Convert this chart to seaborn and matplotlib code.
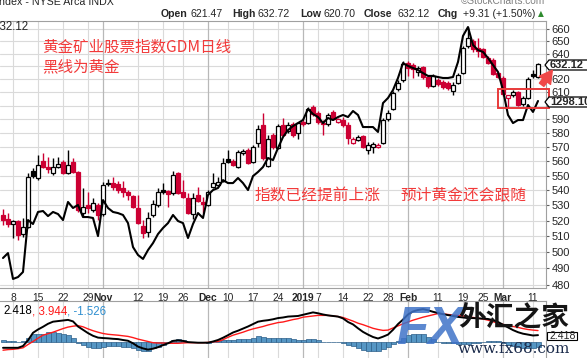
import numpy as np
import pandas as pd
import matplotlib
matplotlib.use("Agg")
import matplotlib.pyplot as plt
import seaborn as sns
from matplotlib.patches import Polygon, Rectangle, FancyArrowPatch
from matplotlib.ticker import NullLocator

# GDM (NYSE Arca Gold Miners) daily, Oct 4 2018 - Mar 12 2019
holidays = ['2018-11-22', '2018-12-05', '2018-12-25', '2019-01-01', '2019-01-21', '2019-02-18']
dates = pd.bdate_range('2018-10-04', '2019-03-12')
dates = dates[~dates.isin(pd.to_datetime(holidays))]

prev_close0 = 524.5
opens = [523.9, 521.3, 518.0, 520.0, 511.6, 516.1, 553.2, 548.4, 560.2, 556.0,
         551.9, 556.0, 559.5, 551.9, 559.5, 552.6, 525.2, 530.5, 527.1, 530.5,
         524.5, 545.1, 545.1, 544.4, 541.7, 539.0, 536.4, 528.5, 516.8, 513.0,
         523.9, 530.5, 540.2, 539.7, 538.0, 551.9, 539.0, 535.1, 524.5, 537.0,
         532.4, 530.5, 542.4, 543.7, 546.4, 561.6, 560.2, 556.0, 565.8, 567.9,
         559.5, 572.8, 585.8, 556.7, 578.6, 569.3, 585.8, 581.3, 586.6, 580.0,
         588.0, 587.3, 599.1, 594.6, 587.3, 586.6, 595.3, 588.0, 589.4, 585.8,
         572.8, 575.0, 577.8, 567.9, 570.0, 570.0, 572.8, 590.2, 597.6, 612.6,
         619.5, 632.7, 631.1, 625.6, 629.4, 621.7, 614.9, 619.5, 617.9, 617.2,
         611.1, 617.2, 624.9, 646.1, 650.2, 644.6, 643.8, 636.6, 635.1, 624.9,
         621.0, 605.8, 608.1, 610.5, 601.3, 605.8, 624.0, 621.47]
highs = [527.8, 525.2, 520.6, 520.6, 521.9, 551.9, 555.3, 564.3, 565.8, 562.8,
         562.1, 562.8, 560.9, 567.9, 562.1, 553.2, 541.7, 539.0, 535.1, 531.8,
         545.8, 547.8, 549.1, 546.4, 546.4, 540.4, 537.0, 537.0, 520.6, 525.8,
         533.8, 541.7, 545.1, 540.4, 553.2, 552.6, 547.1, 538.4, 538.4, 542.4,
         535.7, 540.4, 551.9, 549.1, 562.1, 567.9, 561.6, 567.9, 568.5, 569.3,
         571.4, 585.8, 594.6, 578.6, 580.0, 586.6, 590.8, 588.0, 588.0, 588.0,
         590.2, 599.1, 600.5, 596.0, 589.4, 594.6, 596.7, 590.9, 591.6, 588.0,
         577.1, 578.6, 578.6, 573.6, 573.6, 572.8, 590.9, 596.7, 611.1, 619.5,
         634.3, 634.3, 632.7, 630.4, 630.4, 623.3, 624.1, 621.0, 619.5, 618.7,
         617.9, 624.9, 646.1, 661.6, 651.8, 652.7, 644.6, 638.2, 636.6, 625.6,
         622.5, 608.1, 611.8, 611.1, 607.3, 621.7, 627.2, 632.72]
lows = [517.4, 516.1, 509.1, 507.8, 509.7, 515.5, 548.4, 547.1, 555.3, 551.9,
        550.5, 555.3, 551.2, 551.2, 551.9, 525.8, 522.6, 525.2, 525.8, 520.6,
        523.2, 543.0, 540.4, 538.4, 535.7, 533.8, 528.5, 518.0, 509.1, 509.7,
        522.6, 529.1, 537.7, 529.1, 537.0, 537.7, 535.1, 524.5, 521.3, 532.4,
        525.2, 529.8, 541.7, 542.4, 545.8, 558.8, 556.7, 555.3, 564.3, 558.1,
        558.8, 570.0, 560.9, 556.0, 568.6, 568.6, 577.8, 580.0, 577.1, 575.7,
        585.1, 586.6, 592.3, 586.6, 578.6, 585.1, 589.4, 587.3, 584.4, 572.1,
        572.1, 574.3, 569.3, 565.1, 565.8, 569.3, 572.1, 588.7, 596.7, 611.1,
        617.9, 622.5, 621.0, 622.5, 620.0, 613.3, 614.1, 614.9, 612.6, 611.8,
        608.1, 616.4, 624.1, 644.6, 641.3, 637.4, 636.6, 631.9, 623.3, 621.0,
        607.3, 598.2, 606.5, 599.8, 599.8, 605.1, 621.0, 620.70]
closes = [520.6, 518.0, 520.0, 511.0, 516.1, 549.1, 549.8, 557.4, 556.0, 554.6,
          556.0, 558.1, 551.9, 557.4, 552.6, 527.1, 529.1, 528.5, 531.8, 523.9,
          543.7, 544.0, 542.4, 540.4, 539.0, 537.0, 529.1, 518.7, 512.3, 521.9,
          531.1, 539.0, 539.1, 537.7, 550.5, 538.4, 535.7, 525.2, 535.1, 533.1,
          531.1, 539.0, 545.1, 545.8, 558.8, 559.5, 557.4, 566.5, 567.2, 558.8,
          570.0, 582.9, 562.1, 575.7, 570.0, 585.1, 578.6, 585.8, 578.6, 587.3,
          586.6, 597.6, 593.9, 588.0, 586.3, 593.2, 590.2, 589.8, 585.8, 576.4,
          575.7, 577.1, 570.0, 571.4, 571.8, 571.4, 589.4, 594.6, 609.5, 617.2,
          631.9, 628.7, 628.0, 628.7, 621.7, 614.9, 622.5, 616.4, 614.1, 613.3,
          615.6, 623.3, 644.6, 652.7, 643.8, 642.2, 637.4, 632.7, 624.1, 621.7,
          608.8, 607.7, 610.5, 600.5, 605.8, 620.2, 622.81, 632.12]
chg_text = '+9.31 (+1.50%)'

# gold spot overlay (black line)
gold = [1199.2, 1202.3, 1186.0, 1187.2, 1190.4, 1223.1, 1220.6, 1228.2, 1228.8, 1225.6,
        1228.2, 1226.9, 1223.1, 1234.5, 1230.7, 1232.6, 1225.0, 1225.0, 1224.4, 1213.0,
        1235.7, 1230.7, 1228.2, 1227.5, 1226.3, 1221.2, 1206.1, 1201.1, 1198.6, 1204.2,
        1208.6, 1214.3, 1218.1, 1221.2, 1226.3, 1222.5, 1221.2, 1211.8, 1220.6, 1227.5,
        1224.4, 1238.9, 1242.0, 1243.3, 1248.3, 1246.4, 1246.4, 1249.6, 1246.4, 1242.0,
        1250.8, 1253.4, 1256.5, 1262.2, 1260.9, 1268.5, 1275.4, 1279.8, 1282.3, 1284.2,
        1286.1, 1293.1, 1289.9, 1288.0, 1284.2, 1287.4, 1286.1, 1288.0, 1289.3, 1288.0,
        1291.8, 1289.3, 1281.7, 1281.7, 1281.7, 1278.6, 1296.8, 1300.0, 1305.0, 1312.6,
        1322.0, 1320.2, 1318.9, 1317.6, 1315.7, 1313.9, 1313.9, 1313.2, 1312.6, 1312.6,
        1313.2, 1322.7, 1339.1, 1344.7, 1333.4, 1330.2, 1329.0, 1325.2, 1320.8, 1316.4,
        1305.0, 1289.3, 1284.2, 1286.1, 1286.1, 1295.6, 1291.2, 1298.1]

# MACD(12,26,9)
macd = [-1.8, -1.8, -1.8, -1.8, -1.2, 0.7, 3.2, 4.3, 5.2, 6.2,
        6.9, 7.1, 7.3, 7.5, 7.0, 5.3, 4.2, 3.1, 2.2, 1.6,
        1.45, 1.35, 1.2, 1.1, 0.8, 0.55, -0.3, -1.4, -2.0, -2.4,
        -2.1, -1.6, -0.9, -0.3, 0.5, 0.7, 0.5, 0.1, 0.0, -0.1,
        -0.1, -0.1, 0.3, 0.8, 1.55, 2.4, 3.3, 3.9, 4.6, 5.3,
        6.1, 6.9, 7.2, 7.4, 7.7, 8.1, 8.3, 8.6, 8.7, 8.8,
        9.2, 9.6, 10.0, 9.7, 9.3, 9.0, 8.8, 8.6, 8.0, 6.8,
        6.0, 4.7, 3.5, 2.6, 1.8, 1.3, 1.9, 2.6, 4.2, 6.1,
        7.6, 9.3, 10.3, 10.8, 11.1, 10.7, 10.2, 9.8, 9.4, 9.1,
        8.8, 8.5, 8.3, 8.1, 8.1, 8.0, 7.9, 7.8, 7.4, 6.8,
        5.9, 5.0, 4.1, 3.4, 2.9, 2.6, 2.3, 2.418]
signal = [-2.6, -2.4, -2.3, -2.1, -1.8, -0.7, 0.3, 1.4, 2.4, 2.9,
          3.4, 4.0, 4.6, 5.1, 5.4, 5.6, 5.2, 4.5, 3.9, 3.4,
          2.97, 2.7, 2.55, 2.4, 2.2, 2.0, 1.6, 1.1, 0.7, 0.3,
          -0.1, -0.2, -0.2, -0.3, -0.3, -0.3, -0.2, -0.1, -0.1, -0.1,
          -0.1, 0.0, 0.2, 0.3, 0.9, 1.7, 2.4, 2.9, 3.4, 4.0,
          4.5, 4.9, 5.3, 5.8, 6.2, 6.6, 6.8, 7.2, 7.6, 7.9,
          8.4, 8.6, 8.8, 9.0, 9.0, 9.0, 8.8, 8.6, 8.3, 7.7,
          7.1, 6.4, 5.9, 5.3, 4.7, 4.3, 4.0, 4.1, 4.8, 5.5,
          6.2, 6.8, 7.4, 7.9, 8.4, 8.8, 9.2, 9.6, 9.5, 9.3,
          9.1, 9.0, 8.8, 8.6, 8.3, 8.1, 7.8, 7.4, 6.9, 6.4,
          6.0, 5.7, 5.3, 5.0, 4.6, 4.3, 4.1, 3.944]

tick_dates = ['2018-10-08', '2018-10-15', '2018-10-22', '2018-10-29', '2018-11-01',
              '2018-11-12', '2018-11-19', '2018-11-26', '2018-12-03', '2018-12-10',
              '2018-12-17', '2018-12-24', '2019-01-02', '2019-01-07', '2019-01-14',
              '2019-01-22', '2019-01-28', '2019-02-01', '2019-02-11', '2019-02-19',
              '2019-02-25', '2019-03-01', '2019-03-11']
tick_labels = ['8', '15', '22', '29', 'Nov', '12', '19', '26', 'Dec', '10', '17', '24',
               '2019', '7', '14', '22', '28', 'Feb', '11', '19', '25', 'Mar', '11']
month_labels = ['Nov', 'Dec', '2019', 'Feb', 'Mar']
price_levels = list(range(480, 661, 10))
hidden_levels = [600, 630]   # covered by the value tags

# ---------------------------------------------------------------
sns.set_style("white")
plt.rcParams['font.family'] = ['Liberation Sans', 'Noto Sans CJK SC', 'DejaVu Sans']

RED = '#cc0033'
GRID = '#dadada'
MGRID = '#b8b8b8'
SPINE = '#a0a0a0'
W, H = 587, 358

def fp(x, y):
    return (x / W, 1 - y / H)

o = np.array(opens); hi = np.array(highs); lo = np.array(lows); c = np.array(closes)
pos = np.arange(len(dates))
prev = np.concatenate([[prev_close0], c[:-1]])
edge = np.where(c >= prev, 'black', RED)
face = np.where(c > o, 'white', edge)
tpos = [dates.get_loc(pd.Timestamp(d)) for d in tick_dates]
tmonth = [lab in month_labels for lab in tick_labels]

fig = plt.figure(figsize=(W / 100, H / 100), dpi=100)
ax = fig.add_axes([0, 1 - 288 / H, 546 / W, 267 / H])
mx = fig.add_axes([0, -2 / H, 546 / W, 59 / H])

# price panel
ax.set_yscale('log')
ax.set_ylim(478.2, 666.6)
ax.set_xlim(-0.6, 108.6)
for lv in price_levels:
    ax.axhline(lv, color=GRID, lw=0.8, zorder=0)
for p, m in zip(tpos, tmonth):
    ax.axvline(p, color=MGRID if m else GRID, lw=0.9 if m else 0.8, zorder=0)
    mx.axvline(p, color=MGRID if m else GRID, lw=0.9 if m else 0.8, zorder=0)

ax.vlines(pos, lo, hi, colors=edge, lw=1.0, zorder=3)
ax.bar(pos, np.maximum(np.abs(c - o), 0.35), bottom=np.minimum(o, c), width=0.78,
       color=face, edgecolor=edge, linewidth=0.9, zorder=4)

# gold overlay (twinx resets the tick side of ax, so style ax after it)
g_ax = ax.twinx()
sns.lineplot(x=pos, y=gold, ax=g_ax, color='black', linewidth=1.5, zorder=5)
g_ax.set_ylim(1180.3, 1348.5)
g_ax.set_xlim(-0.6, 108.6)
g_ax.set_yticks([])
g_ax.set_ylabel('')
for s in g_ax.spines.values():
    s.set_visible(False)

ax.yaxis.tick_right()
ax.set_yticks(price_levels)
ax.set_yticklabels(['' if v in hidden_levels else str(v) for v in price_levels])
ax.yaxis.set_minor_locator(NullLocator())
ax.tick_params(axis='y', which='both', left=False, right=True, labelleft=False, labelright=True,
               length=2, width=0.8, color='#606060', pad=2, labelsize=8)
ax.set_xticks(tpos)
ax.set_xticklabels(tick_labels)
ax.tick_params(axis='x', length=0, pad=3.5, labelsize=7.4)
for t in ax.get_xticklabels():
    if t.get_text() in month_labels:
        t.set_fontweight('bold')
for s in ['top', 'bottom', 'right']:
    ax.spines[s].set_color(SPINE)
    ax.spines[s].set_linewidth(0.8)
ax.spines['left'].set_visible(False)

# MACD panel
hist = np.array(macd) - np.array(signal)
mx.bar(pos, hist, width=1.0, color='#5596c4', edgecolor='#2b5e88', linewidth=0.5, zorder=2)
sns.lineplot(x=pos, y=signal, ax=mx, color='#ff1a1a', linewidth=1.0, zorder=3)
sns.lineplot(x=pos, y=macd, ax=mx, color='black', linewidth=1.4, zorder=4)
mx.set_xlim(-0.6, 108.6)
mx.set_ylim(-5.86, 13.79)
mx.set_xticks([]); mx.set_yticks([])
for s in ['top', 'right']:
    mx.spines[s].set_color(SPINE)
    mx.spines[s].set_linewidth(0.8)
mx.spines['left'].set_visible(False)
mx.spines['bottom'].set_visible(False)

# header texts
fig.text(*fp(-4, 5), 'Index - NYSE Arca INDX', fontsize=7.7, va='baseline', ha='left')
fig.text(*fp(545, 4), '\u00a9StockCharts.com', fontsize=7.3, va='baseline', ha='right', color='#808080')
header = [(161, 'Open', True), (191, f'{opens[-1]:.2f}', False),
          (232, 'High', True), (257, f'{highs[-1]:.2f}', False),
          (300, 'Low', True), (323, f'{lows[-1]:.2f}', False),
          (364, 'Close', True), (397, f'{closes[-1]:.2f}', False),
          (438, 'Chg', True), (463, chg_text, False)]
for x, t, b in header:
    fig.text(*fp(x, 14), t, fontsize=7.6, fontweight='bold' if b else 'normal', va='center', ha='left')
fig.text(*fp(538, 14), '\u25b2', fontsize=5.5, color='#2e8b2e', va='center', ha='left',
         family=['DejaVu Sans'])
fig.text(*fp(-6.5, 27), f'{closes[-1]:.2f}', fontsize=8.3, va='center', ha='left')

# value tags on the right
def tag(y, txt, bold=True):
    pts = [fp(545, y), fp(549, y - 5), fp(592, y - 5), fp(592, y + 5), fp(549, y + 5)]
    fig.add_artist(Polygon(pts, closed=True, transform=fig.transFigure, fc='white',
                           ec='black', lw=0.9, zorder=10))
    fig.text(*fp(550, y), txt, fontsize=8, fontweight='bold' if bold else 'normal',
             va='center', ha='left', zorder=11)

tag(65, f'{closes[-1]:.2f}')
tag(102, f'{gold[-1]:.2f}')
fig.add_artist(Rectangle(fp(547, 340), 30 / W, 8 / H, transform=fig.transFigure,
                         fc='white', ec='black', lw=0.8, zorder=10))
fig.text(*fp(549, 336), f'{macd[-1]:.3f}', fontsize=7.6, va='center', ha='left', zorder=11)

# MACD legend values
x0 = 3
for txt, col in [(f'{macd[-1]:.3f}', 'black'), (f', {signal[-1]:.3f}', '#ff1a1a'),
                 (f', {hist[-1]:.3f}', '#2f8fd0')]:
    tt = fig.text(*fp(x0, 311), txt, fontsize=8.3, color=col, va='center', ha='left')
    fig.canvas.draw()
    x0 += tt.get_window_extent().width

# annotations (red chinese text, box, arrow)
TXT = '#f23a3a'
cjk = ['Noto Sans CJK SC', 'DejaVu Sans']
fig.text(*fp(42, 47), '黄金矿业股票指数GDM日线', fontsize=11.2, color=TXT, va='center', ha='left', family=cjk)
fig.text(*fp(42, 67), '黑线为黄金', fontsize=11.2, color=TXT, va='center', ha='left', family=cjk)
fig.text(*fp(255, 195), '指数已经提前上涨', fontsize=11.3, color=TXT, va='center', ha='left', family=cjk)
fig.text(*fp(400, 195), '预计黄金还会跟随', fontsize=11.3, color=TXT, va='center', ha='left', family=cjk)
fig.add_artist(Rectangle(fp(498, 108), 51 / W, 19 / H, transform=fig.transFigure,
                         fill=False, ec='#e83a3a', lw=1.4, zorder=9))
fig.add_artist(FancyArrowPatch(fp(540, 87), fp(554, 68), transform=fig.transFigure,
                               arrowstyle='simple,head_width=1.0,head_length=0.9,tail_width=0.4',
                               mutation_scale=10, color='#f04848', zorder=12))

# watermark
fig.text(*fp(396, 330), 'FX', fontsize=38, fontweight='bold', fontstyle='italic',
         color='#3f73c8', alpha=0.85, va='center', ha='left', zorder=20)
fig.text(*fp(458, 317), '外汇之家', fontsize=20, fontweight='bold', color='#151515',
         va='center', ha='left', family=cjk, zorder=20)
fig.text(*fp(458, 349), 'www.fx68.com', fontsize=11, color='#1c2c4c', va='center', ha='left',
         family=['DejaVu Serif'], zorder=20)

fig.savefig('out.png', dpi=100)
